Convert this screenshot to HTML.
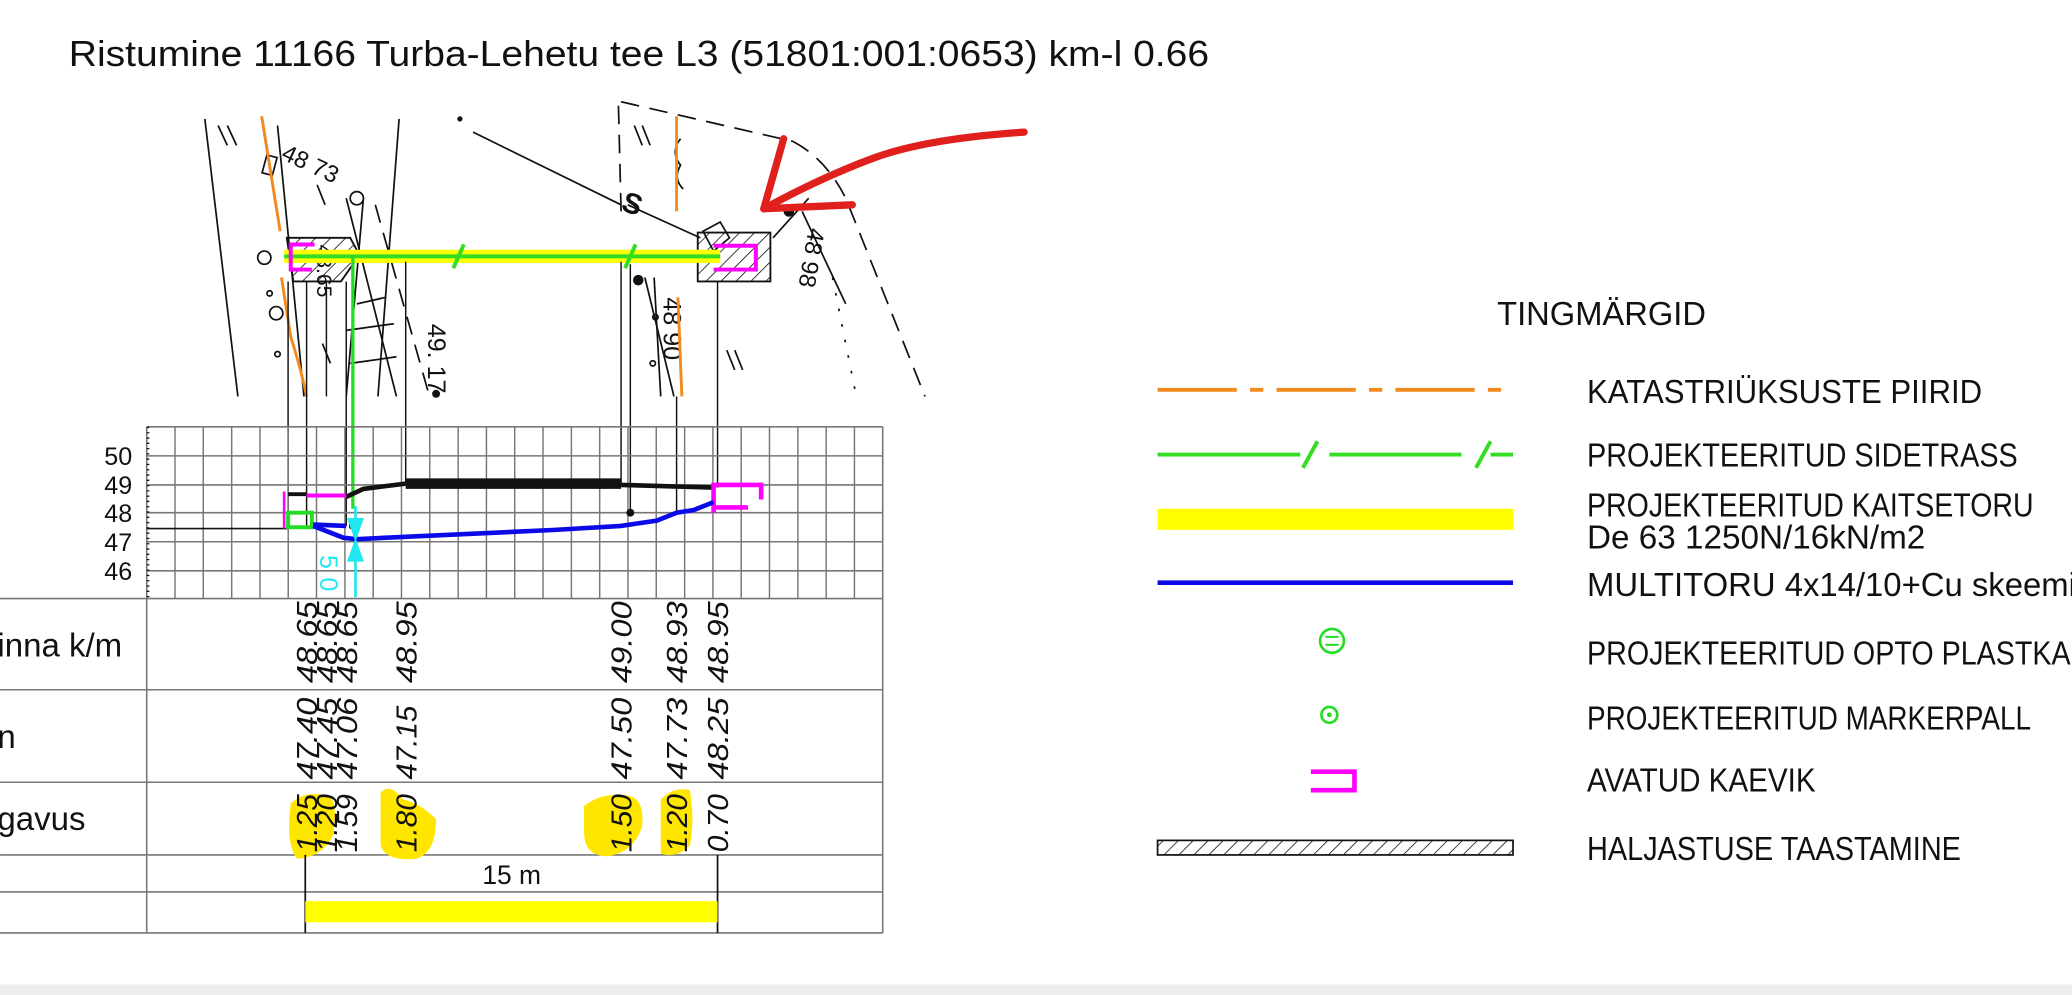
<!DOCTYPE html>
<html><head><meta charset="utf-8"><style>
html,body{margin:0;padding:0;background:#fff;}
svg{display:block;}
text{font-family:"Liberation Sans",sans-serif;}
.l{font-size:25px;fill:#111;}
.n{font-size:22px;font-style:italic;fill:#111;}
</style></head><body>
<svg width="2072" height="995" viewBox="0 0 1568 753" xmlns="http://www.w3.org/2000/svg">
<defs>
<pattern id="h" width="8" height="8" patternUnits="userSpaceOnUse" patternTransform="rotate(45)">
<line x1="0" y1="0" x2="0" y2="8" stroke="#111" stroke-width="1.2"/></pattern>
</defs>
<rect width="1568" height="753" fill="#fff"/>
<rect y="745" width="1568" height="8" fill="#eee"/>
<text x="52" y="50" font-size="27" fill="#111" textLength="863" lengthAdjust="spacingAndGlyphs">Ristumine 11166 Turba-Lehetu tee L3 (51801:001:0653) km-l 0.66</text>

<!-- plan drawing -->
<g stroke="#111" stroke-width="1.3" fill="none">
<line x1="155" y1="90" x2="180" y2="300"/>
<line x1="302" y1="90" x2="286" y2="300"/>
<line x1="210" y1="95" x2="230" y2="300"/>
<line x1="358" y1="100" x2="470" y2="155"/>
<line x1="475" y1="155" x2="530" y2="180"/>
<line x1="262" y1="150" x2="300" y2="300"/>
<line x1="275" y1="150" x2="262" y2="300"/>
<line x1="270" y1="230" x2="292" y2="225"/>
<line x1="262" y1="250" x2="298" y2="245"/>
<line x1="265" y1="275" x2="300" y2="270"/>
<line x1="585" y1="180" x2="612" y2="150"/>
<line x1="607" y1="160" x2="640" y2="230"/>
<line x1="495" y1="210" x2="500" y2="300"/>
<line x1="488" y1="210" x2="510" y2="300"/>
<path d="M532 175 L545 168 L552 180 L540 190 Z"/>
<rect x="200" y="118" width="8" height="14" transform="rotate(15 204 125)"/>
<circle cx="200" cy="195" r="5"/><circle cx="209" cy="237" r="5"/><circle cx="204" cy="222" r="2"/><circle cx="210" cy="268" r="2"/><circle cx="270" cy="150" r="5"/><circle cx="496" cy="240" r="2"/><circle cx="494" cy="275" r="2"/>
<path d="M515 105 q-8 10 0 20 q-6 10 2 18" />
</g>
<g stroke="#111" stroke-width="1.3" fill="none" stroke-dasharray="14 8">
<line x1="470" y1="77" x2="600" y2="107"/>
<path d="M600 107 Q625 120 640 150 L700 300"/>
<line x1="468" y1="80" x2="470" y2="160"/>
<line x1="284" y1="155" x2="325" y2="300"/>
</g>
<g stroke="#111" stroke-width="1.3" stroke-dasharray="2 10" fill="none">
<line x1="630" y1="210" x2="648" y2="300"/>
</g>
<g stroke="#111" stroke-width="1.3">
<line x1="165" y1="95" x2="172" y2="110"/><line x1="172" y1="95" x2="179" y2="110"/>
<line x1="480" y1="95" x2="486" y2="110"/><line x1="486" y1="95" x2="492" y2="110"/>
<line x1="240" y1="140" x2="246" y2="155"/><line x1="244" y1="260" x2="250" y2="275"/>
<line x1="550" y1="265" x2="556" y2="280"/><line x1="556" y1="265" x2="562" y2="280"/>
</g>
<circle cx="483" cy="212" r="4" fill="#111"/><circle cx="597" cy="160" r="4" fill="#111"/><circle cx="330" cy="298" r="3" fill="#111"/><circle cx="348" cy="90" r="2" fill="#111"/>
<text x="472" y="162" font-size="22" font-weight="bold" fill="#111" transform="rotate(20 480 152)">S</text>
<text x="212" y="120" font-size="18" fill="#111" transform="rotate(25 212 120)">48  73</text>
<text x="240" y="185" font-size="16" fill="#111" transform="rotate(90 240 185)">48.65</text>
<text x="324" y="245" font-size="19" fill="#111" transform="rotate(90 324 245)">49. 17</text>
<text x="502" y="225" font-size="19" fill="#111" transform="rotate(90 502 225)">48 90</text>
<text x="612" y="172" font-size="18" fill="#111" transform="rotate(100 612 172)">48 98</text>
<!-- orange -->
<g stroke="#f28a1e" stroke-width="2.2" fill="none">
<path d="M198 88 L212 175 M213 210 L220 255 Q228 280 232 300"/>
<line x1="512" y1="88" x2="512" y2="160"/>
<line x1="513" y1="225" x2="516" y2="300"/>
</g>
<!-- hatched boxes -->
<path d="M217 180 L265 180 L272 193 L258 213 L222 213 Z" fill="url(#h)" stroke="#111" stroke-width="1.4"/>
<rect x="528" y="176" width="55" height="37" fill="url(#h)" stroke="#111" stroke-width="1.4"/>
<rect x="215" y="189" width="330" height="10" fill="#ffff00"/>
<line x1="215" y1="194" x2="545" y2="194" stroke="#33dd22" stroke-width="3"/>
<line x1="343" y1="203" x2="351" y2="185" stroke="#33dd22" stroke-width="3"/>
<line x1="473" y1="203" x2="481" y2="185" stroke="#33dd22" stroke-width="3"/>
<path d="M238 185 L220 185 L220 204 L236 204" stroke="#ff00ff" stroke-width="3" fill="none"/>
<path d="M540 186 L572 186 L572 204 L540 204" stroke="#ff00ff" stroke-width="3" fill="none"/>
<line x1="267" y1="194" x2="267" y2="385" stroke="#22dd22" stroke-width="2.5"/>
<!-- verticals to profile -->
<g stroke="#111" stroke-width="1.1">
<line x1="218" y1="213" x2="218" y2="400"/><line x1="232" y1="213" x2="232" y2="400"/>
<line x1="247" y1="213" x2="247" y2="300"/><line x1="262" y1="213" x2="262" y2="398"/>
<line x1="307" y1="198" x2="307" y2="366"/><line x1="470" y1="198" x2="470" y2="366"/>
<line x1="477" y1="200" x2="477" y2="388"/><line x1="512" y1="300" x2="512" y2="388"/>
<line x1="543" y1="213" x2="543" y2="369"/>
</g>
<!-- red arrow -->
<g stroke="#e0201c" stroke-width="5.5" fill="none" stroke-linecap="round" stroke-linejoin="round">
<path d="M775 100 Q700 105 660 120 Q620 135 578 158"/>
<path d="M593 105 L578 158 L645 155"/>
</g>

<!-- profile grid -->
<g stroke="#777" stroke-width="1.2">
<line x1="111" y1="323" x2="668" y2="323"/><line x1="111" y1="345" x2="668" y2="345"/>
<line x1="111" y1="367" x2="668" y2="367"/><line x1="111" y1="388" x2="668" y2="388"/>
<line x1="111" y1="410" x2="668" y2="410"/><line x1="111" y1="432" x2="668" y2="432"/>
<line x1="0" y1="453" x2="668" y2="453"/>
<line x1="0" y1="522" x2="668" y2="522"/><line x1="0" y1="592" x2="668" y2="592"/>
<line x1="0" y1="647" x2="668" y2="647"/><line x1="0" y1="675" x2="668" y2="675"/>
<line x1="0" y1="706" x2="668" y2="706"/>
<line x1="111" y1="323" x2="111" y2="706"/><line x1="668" y1="323" x2="668" y2="706"/>
</g>
<g stroke="#777" stroke-width="1.1">
<path d="M132.4 323V453M153.8 323V453M175.3 323V453M196.7 323V453M218.1 323V453M239.5 323V453M261 323V453M282.4 323V453M303.8 323V453M325.2 323V453M346.7 323V453M368.1 323V453M389.5 323V453M410.9 323V453M432.4 323V453M453.8 323V453M475.2 323V453M496.6 323V453M518.1 323V453M539.5 323V453M560.9 323V453M582.3 323V453M603.8 323V453M625.2 323V453M646.6 323V453"/>
</g>
<line x1="112" y1="323" x2="112" y2="453" stroke="#111" stroke-width="2" stroke-dasharray="1 3"/>
<g font-size="19" fill="#111" text-anchor="end">
<text x="100" y="352">50</text><text x="100" y="374">49</text><text x="100" y="395">48</text><text x="100" y="417">47</text><text x="100" y="439">46</text>
</g>
<!-- profile lines -->
<line x1="111" y1="400" x2="218" y2="400" stroke="#111" stroke-width="1.3"/>
<line x1="307" y1="366" x2="470" y2="366" stroke="#111" stroke-width="8"/>
<polyline points="218,374 232,374" stroke="#111" stroke-width="3" fill="none"/>
<polyline points="262,376 275,370 307,366" stroke="#111" stroke-width="3.5" fill="none"/>
<polyline points="470,367 540,369" stroke="#111" stroke-width="3.5" fill="none"/>
<line x1="232" y1="375" x2="262" y2="375" stroke="#ff00ff" stroke-width="3"/>
<line x1="215" y1="372" x2="215" y2="400" stroke="#ff00ff" stroke-width="2"/>
<path d="M540 388 L540 367 L576 367 L576 378 M540 384 L566 384" stroke="#ff00ff" stroke-width="3.5" fill="none"/>
<rect x="218" y="388" width="18" height="11" fill="none" stroke="#22dd22" stroke-width="3"/>
<polyline points="237,397 262,398" stroke="#0a0ae8" stroke-width="3.5" fill="none"/>
<polyline points="237,398 260,407 270,408 420,401 470,398 497,394 512,388 525,386 540,380" stroke="#0a0ae8" stroke-width="3.5" fill="none"/>
<circle cx="267" cy="398" r="3" fill="#111"/><circle cx="477" cy="388" r="3" fill="#111"/>
<g stroke="#22e6f0" stroke-width="2" fill="#22e6f0">
<line x1="269" y1="383" x2="269" y2="405"/><path d="M264 393 L269 407 L274 393 Z"/>
<line x1="269" y1="412" x2="269" y2="452"/><path d="M264 424 L269 410 L274 424 Z"/>
</g>
<text x="242" y="420" font-size="19" fill="#22e6f0" transform="rotate(90 242 420)">5</text>
<text x="242" y="437" font-size="19" fill="#22e6f0" transform="rotate(90 242 437)">0</text>

<!-- table labels -->
<g font-size="25" fill="#111">
<text x="-2" y="497">inna k/m</text><text x="-2" y="566">n</text><text x="-2" y="628">gavus</text>
</g>
<!-- highlights -->
<g fill="#ffe600">
<path d="M220 608 Q230 598 248 602 Q256 605 252 632 Q245 648 225 650 Q216 640 220 608Z"/>
<path d="M288 600 Q295 592 305 605 Q318 608 330 620 Q330 645 315 650 Q292 652 288 640Z"/>
<path d="M442 610 Q455 600 470 602 Q488 600 486 625 Q480 645 460 648 Q442 648 442 630Z"/>
<path d="M500 605 Q510 595 522 598 Q526 620 522 640 Q512 650 500 646Z"/>
</g>
<g class="n">
<text transform="translate(240 517) rotate(-90)" textLength="62" lengthAdjust="spacingAndGlyphs">48.65</text>
<text transform="translate(255 517) rotate(-90)" textLength="62" lengthAdjust="spacingAndGlyphs">48.65</text>
<text transform="translate(270 517) rotate(-90)" textLength="62" lengthAdjust="spacingAndGlyphs">48.65</text>
<text transform="translate(315 517) rotate(-90)" textLength="62" lengthAdjust="spacingAndGlyphs">48.95</text>
<text transform="translate(478 517) rotate(-90)" textLength="62" lengthAdjust="spacingAndGlyphs">49.00</text>
<text transform="translate(520 517) rotate(-90)" textLength="62" lengthAdjust="spacingAndGlyphs">48.93</text>
<text transform="translate(551 517) rotate(-90)" textLength="62" lengthAdjust="spacingAndGlyphs">48.95</text>
<text transform="translate(240 590) rotate(-90)" textLength="62" lengthAdjust="spacingAndGlyphs">47.40</text>
<text transform="translate(255 590) rotate(-90)" textLength="62" lengthAdjust="spacingAndGlyphs">47.45</text>
<text transform="translate(270 590) rotate(-90)" textLength="62" lengthAdjust="spacingAndGlyphs">47.06</text>
<text transform="translate(315 590) rotate(-90)" textLength="56" lengthAdjust="spacingAndGlyphs">47.15</text>
<text transform="translate(478 590) rotate(-90)" textLength="62" lengthAdjust="spacingAndGlyphs">47.50</text>
<text transform="translate(520 590) rotate(-90)" textLength="62" lengthAdjust="spacingAndGlyphs">47.73</text>
<text transform="translate(551 590) rotate(-90)" textLength="62" lengthAdjust="spacingAndGlyphs">48.25</text>
<text transform="translate(240 645) rotate(-90)" textLength="44" lengthAdjust="spacingAndGlyphs">1.25</text>
<text transform="translate(255 645) rotate(-90)" textLength="44" lengthAdjust="spacingAndGlyphs">1.20</text>
<text transform="translate(270 645) rotate(-90)" textLength="44" lengthAdjust="spacingAndGlyphs">1.59</text>
<text transform="translate(315 645) rotate(-90)" textLength="44" lengthAdjust="spacingAndGlyphs">1.80</text>
<text transform="translate(478 645) rotate(-90)" textLength="44" lengthAdjust="spacingAndGlyphs">1.50</text>
<text transform="translate(520 645) rotate(-90)" textLength="44" lengthAdjust="spacingAndGlyphs">1.20</text>
<text transform="translate(551 645) rotate(-90)" textLength="44" lengthAdjust="spacingAndGlyphs">0.70</text>
</g>
<line x1="231" y1="647" x2="231" y2="706" stroke="#111" stroke-width="1.3"/>
<line x1="543" y1="647" x2="543" y2="706" stroke="#111" stroke-width="1.3"/>
<text x="365" y="669" font-size="20" fill="#111">15 m</text>
<rect x="231" y="682" width="312" height="16" fill="#ffff00"/>

<!-- legend -->
<text x="1133" y="246" class="l" font-size="27" textLength="158" lengthAdjust="spacingAndGlyphs">TINGMÄRGID</text>
<line x1="876" y1="295" x2="1145" y2="295" stroke="#f28a1e" stroke-width="3" stroke-dasharray="60 10 10 10"/>
<line x1="876" y1="344" x2="1145" y2="344" stroke="#33dd22" stroke-width="3" stroke-dasharray="108 22 100 22 40"/>
<line x1="986" y1="354" x2="997" y2="334" stroke="#33dd22" stroke-width="3"/>
<line x1="1117" y1="354" x2="1128" y2="334" stroke="#33dd22" stroke-width="3"/>
<rect x="876" y="385" width="269" height="16" fill="#ffff00"/>
<line x1="876" y1="441" x2="1145" y2="441" stroke="#0a0ae8" stroke-width="3.5"/>
<circle cx="1008" cy="485" r="9" fill="none" stroke="#22dd22" stroke-width="2"/>
<line x1="1003" y1="482" x2="1013" y2="482" stroke="#22dd22" stroke-width="1.5"/><line x1="1003" y1="488" x2="1013" y2="488" stroke="#22dd22" stroke-width="1.5"/>
<circle cx="1006" cy="541" r="6" fill="none" stroke="#22dd22" stroke-width="2"/><circle cx="1006" cy="541" r="1.8" fill="#22dd22"/>
<path d="M992 584 L1025 584 L1025 598 L992 598" stroke="#ff00ff" stroke-width="3.5" fill="none"/>
<rect x="876" y="636" width="269" height="11" fill="url(#h)" stroke="#111" stroke-width="1.3"/>
<g class="l">
<text x="1201" y="305" textLength="299" lengthAdjust="spacingAndGlyphs">KATASTRIÜKSUSTE PIIRID</text>
<text x="1201" y="353" textLength="326" lengthAdjust="spacingAndGlyphs">PROJEKTEERITUD SIDETRASS</text>
<text x="1201" y="391" textLength="338" lengthAdjust="spacingAndGlyphs">PROJEKTEERITUD KAITSETORU</text>
<text x="1201" y="415" textLength="256" lengthAdjust="spacingAndGlyphs">De 63 1250N/16kN/m2</text>
<text x="1201" y="451" textLength="370" lengthAdjust="spacingAndGlyphs">MULTITORU 4x14/10+Cu skeemi</text>
<text x="1201" y="503" textLength="372" lengthAdjust="spacingAndGlyphs">PROJEKTEERITUD OPTO PLASTKAI</text>
<text x="1201" y="552" textLength="336" lengthAdjust="spacingAndGlyphs">PROJEKTEERITUD MARKERPALL</text>
<text x="1201" y="599" textLength="173" lengthAdjust="spacingAndGlyphs">AVATUD KAEVIK</text>
<text x="1201" y="651" textLength="283" lengthAdjust="spacingAndGlyphs">HALJASTUSE TAASTAMINE</text>
</g>
</svg>
</body></html>
